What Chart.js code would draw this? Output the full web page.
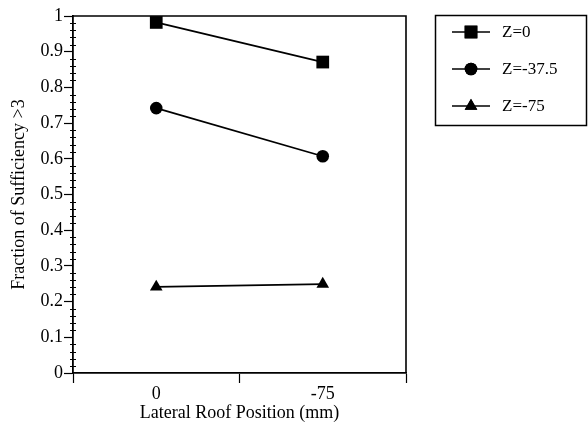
<!DOCTYPE html>
<html>
<head>
<meta charset="utf-8">
<script src="https://cdn.jsdelivr.net/npm/chart.js@4/dist/chart.umd.min.js"></script>
<style>
html,body{margin:0;padding:0;background:#fff;}
#wrap{width:588px;height:431px;position:relative;}
</style>
</head>
<body>
<div id="wrap"><canvas id="c" width="588" height="431"></canvas></div>
<script>
const categories = ['0', '-75'];
const seriesNames = ['Z=0', 'Z=-37.5', 'Z=-75'];
const z0 = [0.982, 0.871];
const z37 = [0.742, 0.607];
const z75 = [0.241, 0.249];
const pointStyles = ['rect', 'circle', 'triangle'];
const pointSizes = [9, 6.3, 7.3];
const xTitle = 'Lateral Roof Position (mm)';
const yTitle = 'Fraction of Sufficiency >3';

const SERIF = "'Liberation Serif', 'Times New Roman', serif";

function mkDs(i, vals) {
  return {
    label: seriesNames[i],
    data: vals,
    borderColor: '#000',
    backgroundColor: '#000',
    borderWidth: 1.7,
    pointStyle: pointStyles[i],
    pointRadius: pointSizes[i],
    pointBorderWidth: 0,
    tension: 0,
    fill: false
  };
}

const framePlugin = {
  id: 'frame',
  afterDraw(chart) {
    const ctx = chart.ctx;
    const a = chart.chartArea;
    const y = chart.scales.y;
    ctx.save();
    ctx.strokeStyle = '#000';
    ctx.lineWidth = 1.6;
    ctx.beginPath();
    ctx.moveTo(a.left, a.top);
    ctx.lineTo(a.right, a.top);
    ctx.lineTo(a.right, a.bottom);
    ctx.stroke();
    ctx.lineWidth = 1;
    for (let v = 0; v <= 100; v += 2) {
      if (v % 10 === 0) continue;
      const py = Math.round(y.getPixelForValue(v / 100)) + 0.5;
      ctx.beginPath();
      ctx.moveTo(a.left - 3, py);
      ctx.lineTo(a.left + 3, py);
      ctx.stroke();
    }
    const bx = 435, by = 15, bw = 151, bh = 110;
    ctx.lineWidth = 1.5;
    ctx.strokeRect(bx + 0.5, by + 0.5, bw, bh);
    const rows = [32, 69, 106];
    chart.data.datasets.forEach((ds, i) => {
      const ry = rows[i];
      ctx.strokeStyle = '#000';
      ctx.lineWidth = 1.7;
      ctx.beginPath();
      ctx.moveTo(452, ry);
      ctx.lineTo(490, ry);
      ctx.stroke();
      ctx.fillStyle = '#000';
      Chart.helpers.drawPoint(ctx, {pointStyle: ds.pointStyle, radius: ds.pointRadius, borderWidth: 0, rotation: 0}, 471, ry);
      ctx.fill();
      ctx.font = '17px ' + SERIF;
      ctx.textAlign = 'left';
      ctx.textBaseline = 'middle';
      ctx.fillText(ds.label, 502, ry + 1);
    });
    ctx.restore();
  }
};

new Chart(document.getElementById('c'), {
  type: 'line',
  data: {
    labels: categories,
    datasets: [mkDs(0, z0), mkDs(1, z37), mkDs(2, z75)]
  },
  options: {
    responsive: false,
    animation: false,
    devicePixelRatio: 1,
    layout: { padding: { left: 0, top: 16, right: 182, bottom: 7 } },
    plugins: { legend: { display: false }, tooltip: { enabled: false } },
    scales: {
      x: {
        type: 'category',
        offset: true,
        grid: { offset: true, drawOnChartArea: false, tickLength: 10, color: '#000', tickWidth: 1.2 },
        border: { display: true, color: '#000', width: 1.8 },
        ticks: { color: '#000', font: { family: SERIF, size: 18 }, padding: 0, maxRotation: 0 },
        title: { display: true, text: xTitle, color: '#000', font: { family: SERIF, size: 18 }, padding: { top: 0, bottom: 0 } },
        afterFit(s) { s.height = 51; }
      },
      y: {
        min: 0, max: 1,
        ticks: {
          stepSize: 0.1, color: '#000', font: { family: SERIF, size: 18 }, padding: 1,
          callback: (v) => String(Math.round(v * 10) / 10)
        },
        grid: { drawOnChartArea: false, tickLength: 9, color: '#000', tickWidth: 1.2 },
        border: { display: true, color: '#000', width: 1.8 },
        title: { display: true, text: yTitle, color: '#000', font: { family: SERIF, size: 18 }, padding: { top: 8, bottom: 0 } },
        afterFit(s) { s.width = 73; }
      }
    }
  },
  plugins: [framePlugin]
});
</script>
</body>
</html>
